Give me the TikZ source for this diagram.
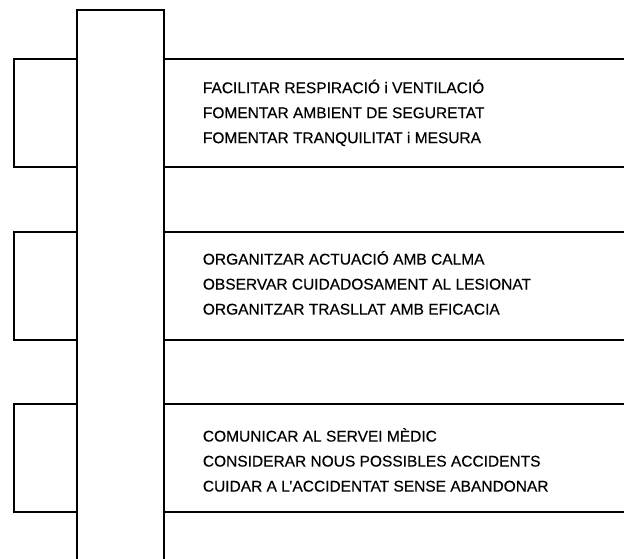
\documentclass[tikz,border=0pt]{standalone}
\usepackage{fontspec}
\setmainfont{Liberation Sans}
\usetikzlibrary{positioning}

\begin{document}
\begin{tikzpicture}[
    x=1pt, y=-1pt,
    line width=1.8pt,
    spine node/.style={draw, anchor=north west, minimum width=87pt, minimum height=600pt, inner sep=0pt},
    tab node/.style={draw, anchor=north west, minimum width=63pt, minimum height=108pt, inner sep=0pt},
    band node/.style={draw, anchor=north west, minimum width=500pt, minimum height=108pt, inner sep=0pt},
    item text/.style={anchor=west, align=left, inner sep=0pt, font=\fontsize{15.5}{25}\selectfont\addfontfeatures{FakeBold=0.4}}
]
    \useasboundingbox (0,0) rectangle (624,559);
    \clip (0,0) rectangle (624,559);

    % --- central column ---
    \node[spine node] (Spine) at (76, 9) {};

    % --- block 1 ---
    \node[tab node] (T1) at (13, 58) {};
    \node[band node] (B1) at (163, 58) {};
    \node[item text, right=39pt of B1.west] (L1) {FACILITAR RESPIRACIÓ i VENTILACIÓ\\
        FOMENTAR AMBIENT DE SEGURETAT\\
        FOMENTAR TRANQUILITAT i MESURA};

    % --- block 2 ---
    \node[tab node] (T2) at (13, 231) {};
    \node[band node] (B2) at (163, 231) {};
    \node[item text, right=39pt of B2.west, yshift=3pt] (L2) {ORGANITZAR ACTUACIÓ AMB CALMA\\
        OBSERVAR CUIDADOSAMENT AL LESIONAT\\
        ORGANITZAR TRASLLAT AMB EFICACIA};

    % --- block 3 ---
    \node[tab node] (T3) at (13, 403) {};
    \node[band node] (B3) at (163, 403) {};
    \node[item text, right=39pt of B3.west, yshift=-2pt] (L3) {COMUNICAR AL SERVEI MÈDIC\\
        CONSIDERAR NOUS POSSIBLES ACCIDENTS\\
        CUIDAR A L'ACCIDENTAT SENSE ABANDONAR};
\end{tikzpicture}
\end{document}
